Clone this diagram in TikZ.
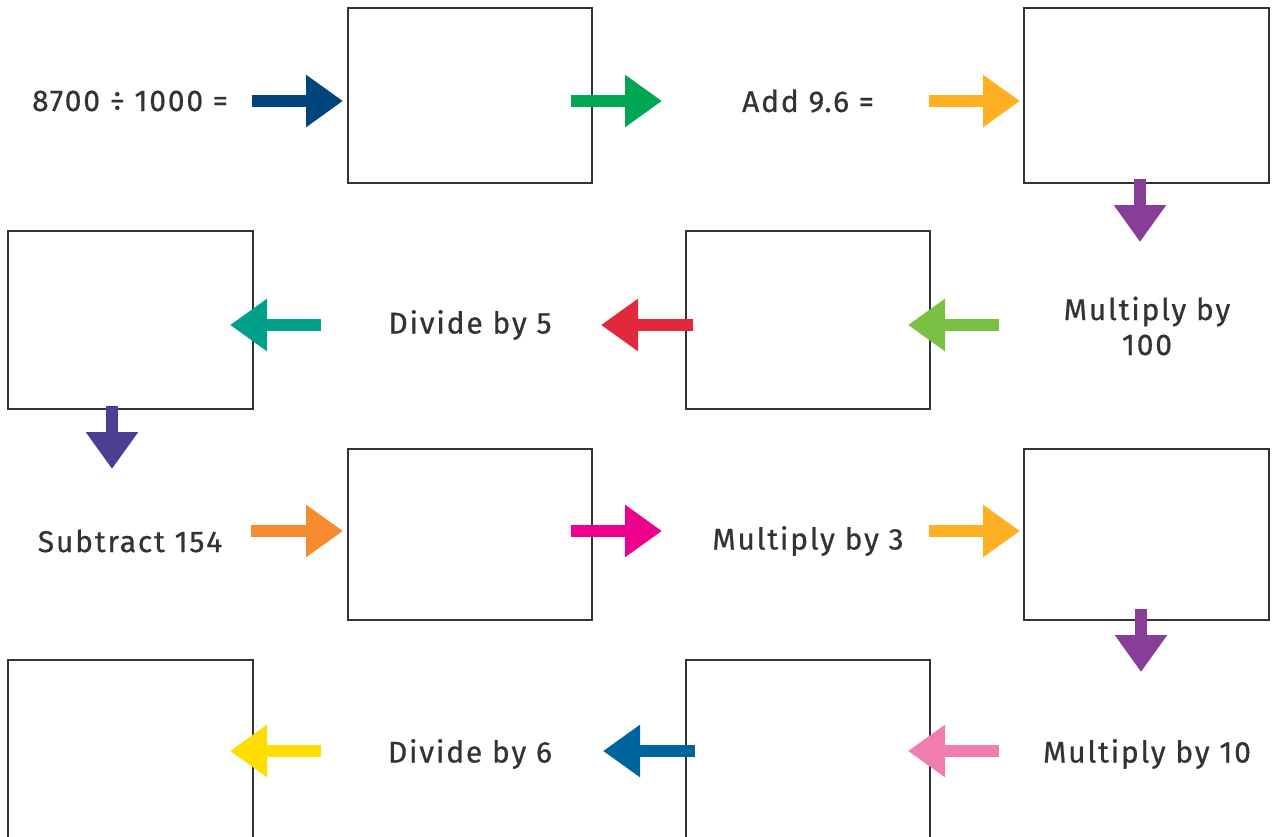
\documentclass[tikz,border=0pt]{standalone}
\usepackage{fontspec}
\setmainfont{Fira Sans}[LetterSpace=6, FakeBold=0.6]
\usetikzlibrary{arrows.meta}
\definecolor{txt}{HTML}{333333}
\definecolor{cDarkBlue}{HTML}{00457C}
\definecolor{cGreen}{HTML}{00A651}
\definecolor{cAmber}{HTML}{FCB022}
\definecolor{cPurple}{HTML}{873E96}
\definecolor{cLime}{HTML}{7AC143}
\definecolor{cRed}{HTML}{E1283C}
\definecolor{cTeal}{HTML}{00A08A}
\definecolor{cIndigo}{HTML}{4B3F94}
\definecolor{cOrange}{HTML}{F58A2E}
\definecolor{cMagenta}{HTML}{EC008C}
\definecolor{cPink}{HTML}{F17CB0}
\definecolor{cBlue}{HTML}{00659E}
\definecolor{cYellow}{HTML}{FEDD00}
\tikzset{
  answerbox/.style={draw=txt, line width=1.8pt, fill=white, inner sep=0pt},
  label/.style={text=txt, font=\fontsize{30}{35}\selectfont, align=center, inner sep=0pt},
  blockarrow/.style={line width=12pt, -{Triangle[width=50pt,length=37pt]}, draw=#1}
}
\begin{document}
\begin{tikzpicture}[x=1pt,y=-1pt]
\useasboundingbox (0,0) rectangle (1278,836);
\clip (0,0) rectangle (1278,836);
\fill[white] (0,0) rectangle (1278,836);
% boxes
\node[answerbox, minimum width=244pt, minimum height=175pt] (A) at (470,95.5) {};
\node[answerbox, minimum width=245pt, minimum height=175pt] (B) at (1146.5,95.5) {};
\node[answerbox, minimum width=245pt, minimum height=178pt] (C) at (130.5,320) {};
\node[answerbox, minimum width=244pt, minimum height=178pt] (D) at (808,320) {};
\node[answerbox, minimum width=244pt, minimum height=171pt] (E) at (470,534.5) {};
\node[answerbox, minimum width=245pt, minimum height=171pt] (F) at (1146.5,534.5) {};
\node[answerbox, minimum width=245pt, minimum height=180pt] (G) at (130.5,750) {};
\node[answerbox, minimum width=244pt, minimum height=180pt] (H) at (808,750) {};
% labels
\node[label] (t1) at (130,101) {8700 ÷ 1000 =};
\node[label] (t2) at (808,101) {Add 9.6 =};
\node[label] (t3) at (1147,326) {Multiply by\\100};
\node[label] (t4) at (470,325) {Divide by 5};
\node[label] (t5) at (130,541) {Subtract 154};
\node[label] (t6) at (808,541) {Multiply by 3};
\node[label] (t7) at (1147,754) {Multiply by 10};
\node[label] (t8) at (470,754) {Divide by 6};
% arrow end points
\coordinate (a1s) at (252,101);  \coordinate (a1e) at (343,101);
\coordinate (a2s) at (571,101);  \coordinate (a2e) at (662,101);
\coordinate (a3s) at (929,101);  \coordinate (a3e) at (1020,101);
\coordinate (a4s) at (1140,179); \coordinate (a4e) at (1140,242);
\coordinate (a5s) at (999,325);  \coordinate (a5e) at (908,325);
\coordinate (a6s) at (693,325);  \coordinate (a6e) at (601,325);
\coordinate (a7s) at (321,325);  \coordinate (a7e) at (230,325);
\coordinate (a8s) at (112,406);  \coordinate (a8e) at (112,469);
\coordinate (a9s) at (251,531);  \coordinate (a9e) at (343,531);
\coordinate (a10s) at (571,531); \coordinate (a10e) at (662,531);
\coordinate (a11s) at (929,531); \coordinate (a11e) at (1020,531);
\coordinate (a12s) at (1141,609);\coordinate (a12e) at (1141,672);
\coordinate (a13s) at (999,751); \coordinate (a13e) at (908,751);
\coordinate (a14s) at (695,751); \coordinate (a14e) at (603,751);
\coordinate (a15s) at (321,751); \coordinate (a15e) at (230,751);
% arrows
\draw[blockarrow=cDarkBlue] (a1s) -- (a1e);
\draw[blockarrow=cGreen] (a2s) -- (a2e);
\draw[blockarrow=cAmber] (a3s) -- (a3e);
\draw[blockarrow=cPurple] (a4s) -- (a4e);
\draw[blockarrow=cLime] (a5s) -- (a5e);
\draw[blockarrow=cRed] (a6s) -- (a6e);
\draw[blockarrow=cTeal] (a7s) -- (a7e);
\draw[blockarrow=cIndigo] (a8s) -- (a8e);
\draw[blockarrow=cOrange] (a9s) -- (a9e);
\draw[blockarrow=cMagenta] (a10s) -- (a10e);
\draw[blockarrow=cAmber] (a11s) -- (a11e);
\draw[blockarrow=cPurple] (a12s) -- (a12e);
\draw[blockarrow=cPink] (a13s) -- (a13e);
\draw[blockarrow=cBlue] (a14s) -- (a14e);
\draw[blockarrow=cYellow] (a15s) -- (a15e);
\end{tikzpicture}
\end{document}
